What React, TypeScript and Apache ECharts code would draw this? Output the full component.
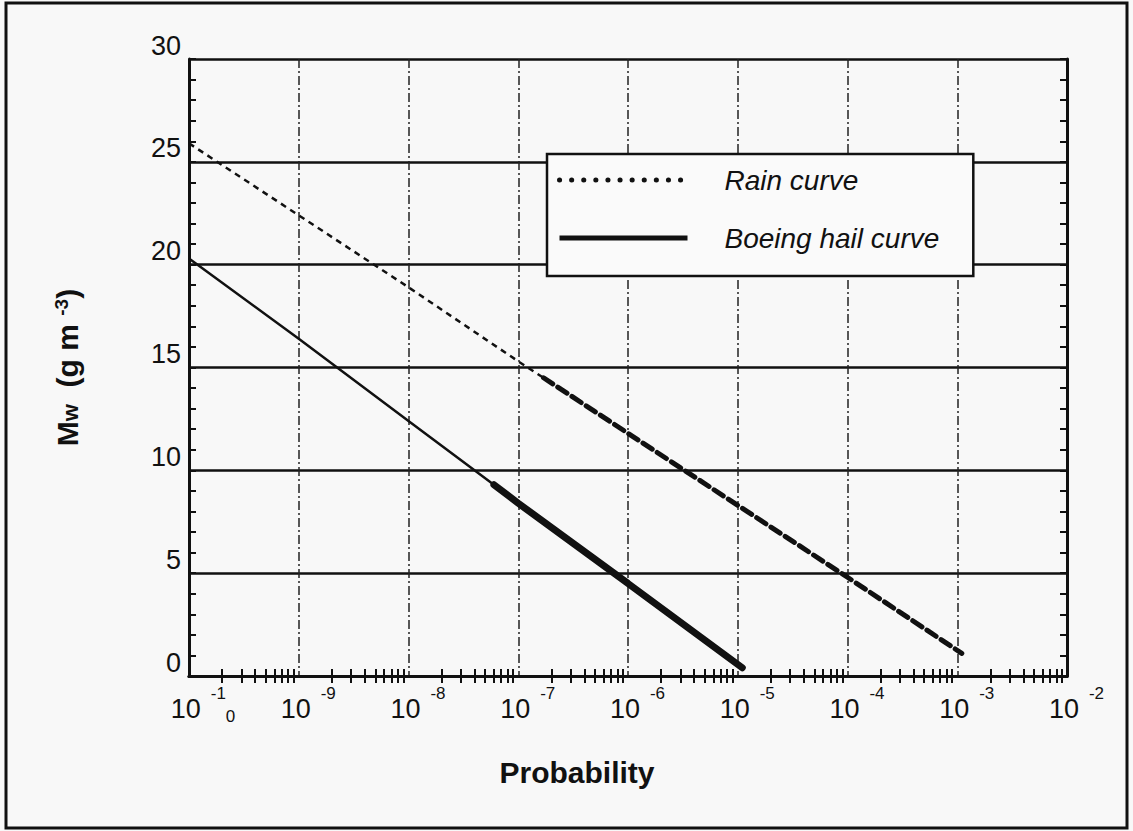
import React, { useEffect, useRef } from 'react';
import * as echarts from 'echarts';

// ---- Data ----
const rainThinProb = [1e-10, 1e-9, 1e-8, 1e-7, 1.7e-7];
const rainThinMw = [25.9, 22.4, 18.9, 15.3, 14.5];
const rainThickProb = [1.7e-7, 1e-6, 1e-5, 1e-4, 1.1e-3];
const rainThickMw = [14.5, 11.8, 8.3, 4.8, 1.1];

const hailThinProb = [1e-10, 1e-9, 1e-8, 6e-8];
const hailThinMw = [20.3, 16.4, 12.4, 9.3];
const hailThickProb = [6e-8, 1e-7, 1e-6, 1.1e-5];
const hailThickMw = [9.3, 8.4, 4.5, 0.4];

const xTickValues = [1e-10, 1e-9, 1e-8, 1e-7, 1e-6, 1e-5, 1e-4, 1e-3, 1e-2];
const xTickBase = '10';
const xTickSup = ['-1', '-9', '-8', '-7', '-6', '-5', '-4', '-3', '-2'];
const xTickSub = ['0', '', '', '', '', '', '', '', ''];
const yTickValues = [0, 5, 10, 15, 20, 25, 30];

const seriesNames = ['Rain curve', 'Boeing hail curve'];
const xName = 'Probability';

const FONT = "'Liberation Sans', Arial, Helvetica, sans-serif";
const INK = '#111';

const pairs = (xs: number[], ys: number[]) => xs.map((x, i) => [x, ys[i]]);

export default function App() {
  const ref = useRef<HTMLDivElement>(null);

  useEffect(() => {
    if (!ref.current) return;
    const chart = echarts.init(ref.current, undefined, { renderer: 'svg' });

    const xLabelFormatter = (v: number) => {
      const lv = Math.log10(v);
      const i = xTickValues.findIndex((t) => Math.abs(Math.log10(t) - lv) < 1e-6);
      if (i < 0) return '';
      const sub = xTickSub[i];
      if (sub) {
        return `{lsp2| }{base|${xTickBase}}{gap| }{sup|${xTickSup[i]}}{sub|${sub}}`;
      }
      return `{lsp| }{base|${xTickBase}}{gap| }{sup|${xTickSup[i]}}`;
    };

    const commonX = {
      type: 'log' as const,
      logBase: 10,
      min: xTickValues[0],
      max: xTickValues[xTickValues.length - 1],
      splitNumber: 8,
    };

    const option: any = {
      animation: false,
      backgroundColor: '#f8f8f8',
      textStyle: { fontFamily: FONT, color: INK },
      grid: { left: 189, top: 59, width: 878, height: 617, containLabel: false },
      graphic: [
        {
          type: 'rect',
          silent: true,
          z: -10,
          shape: { x: 6, y: 3, width: 1121, height: 825 },
          style: { fill: 'none', stroke: INK, lineWidth: 3 },
        },
      ],
      legend: {
        show: true,
        orient: 'vertical',
        left: 547,
        top: 154,
        selectedMode: false,
        itemWidth: 128,
        itemHeight: 14,
        itemGap: 28,
        padding: [11, 34, 23, 10],
        backgroundColor: '#fafafa',
        borderColor: INK,
        borderWidth: 2.5,
        textStyle: {
          fontFamily: FONT,
          fontSize: 28,
          fontStyle: 'italic',
          color: INK,
          padding: [0, 0, 0, 32],
          lineHeight: 30,
        },
        data: [
          {
            name: seriesNames[0],
            itemStyle: { opacity: 0 },
            lineStyle: { color: INK, width: 5, type: [0.1, 12], cap: 'round' },
          },
          {
            name: seriesNames[1],
            itemStyle: { opacity: 0 },
            lineStyle: { color: INK, width: 5, type: 'solid' },
          },
        ],
      },
      xAxis: [
        {
          ...commonX,
          position: 'bottom',
          name: xName,
          nameLocation: 'middle',
          nameGap: 81,
          nameTextStyle: {
            fontFamily: FONT,
            fontSize: 30,
            fontWeight: 'bold',
            color: INK,
            padding: [0, 102, 0, 0],
          },
          axisLine: { show: true, lineStyle: { color: INK, width: 3 } },
          axisTick: { show: false, inside: true, length: 7, lineStyle: { color: INK, width: 2 } },
          minorTick: { show: true, splitNumber: 9, length: 7, lineStyle: { color: INK, width: 2 } },
          splitLine: { show: true, lineStyle: { color: '#222', width: 1.5, type: [9, 3, 2, 3] } },
          axisLabel: {
            show: true,
            margin: 2,
            showMinLabel: true,
            showMaxLabel: true,
            hideOverlap: false,
            color: INK,
            formatter: xLabelFormatter,
            rich: {
              lsp: { width: 19, fontSize: 10 },
              lsp2: { width: 28, fontSize: 10 },
              gap: { width: 10, fontSize: 10 },
              base: { fontFamily: FONT, fontSize: 27, color: INK, padding: [17.5, 0, 3, 0], verticalAlign: 'middle' },
              sup: { fontFamily: FONT, fontSize: 17, color: INK, padding: [0, 0, 17.5, 0], verticalAlign: 'middle' },
              sub: { fontFamily: FONT, fontSize: 17, color: INK, padding: [30, 0, 0, 0], verticalAlign: 'middle' },
            },
          },
        },
        {
          ...commonX,
          position: 'top',
          axisLine: { show: true, lineStyle: { color: INK, width: 3 } },
          axisTick: { show: false, inside: true, length: 7, lineStyle: { color: INK, width: 2 } },
          minorTick: { show: true, splitNumber: 9, length: 7, lineStyle: { color: INK, width: 2 } },
          splitLine: { show: false },
          axisLabel: { show: false },
        },
      ],
      yAxis: [
        {
          type: 'value',
          position: 'left',
          min: yTickValues[0],
          max: yTickValues[yTickValues.length - 1],
          interval: 5,
          name: '{m|M}{w|w}{t|  (g m }{sup|-3}{t|)}',
          nameLocation: 'middle',
          nameRotate: 90,
          nameGap: 106,
          nameTextStyle: {
            rich: {
              m: { fontFamily: FONT, fontSize: 30, fontWeight: 'bold', color: INK, verticalAlign: 'middle' },
              w: { fontFamily: FONT, fontSize: 22, fontWeight: 'bold', color: INK, padding: [6, 0, 0, 0], verticalAlign: 'middle' },
              t: { fontFamily: FONT, fontSize: 30, fontWeight: 'bold', color: INK, verticalAlign: 'middle' },
              sup: { fontFamily: FONT, fontSize: 19, fontWeight: 'bold', color: INK, padding: [0, 0, 12, 0], verticalAlign: 'middle' },
            },
          },
          axisLine: { show: true, lineStyle: { color: INK, width: 3 } },
          axisTick: { show: true, inside: true, length: 7, lineStyle: { color: INK, width: 2 } },
          minorTick: { show: true, splitNumber: 5, length: 7, lineStyle: { color: INK, width: 2 } },
          splitLine: { show: true, lineStyle: { color: INK, width: 2.5, type: 'solid' } },
          axisLabel: {
            show: true,
            margin: 8,
            color: INK,
            fontFamily: FONT,
            fontSize: 27,
            verticalAlign: 'bottom',
            showMinLabel: true,
            showMaxLabel: true,
          },
        },
        {
          type: 'value',
          position: 'right',
          min: yTickValues[0],
          max: yTickValues[yTickValues.length - 1],
          interval: 5,
          axisLine: { show: true, lineStyle: { color: INK, width: 3 } },
          axisTick: { show: true, inside: true, length: 7, lineStyle: { color: INK, width: 2 } },
          minorTick: { show: true, splitNumber: 5, length: 7, lineStyle: { color: INK, width: 2 } },
          splitLine: { show: false },
          axisLabel: { show: false },
        },
      ],
      series: [
        {
          name: seriesNames[0],
          type: 'line',
          xAxisIndex: 0,
          yAxisIndex: 0,
          symbol: 'none',
          data: pairs(rainThinProb, rainThinMw),
          lineStyle: { color: INK, width: 2.5, type: [6, 5] },
          itemStyle: { color: INK },
          z: 5,
        },
        {
          name: seriesNames[0],
          type: 'line',
          xAxisIndex: 0,
          yAxisIndex: 0,
          symbol: 'none',
          data: pairs(rainThickProb, rainThickMw),
          lineStyle: { color: INK, width: 5, type: [11, 6], cap: 'round' },
          itemStyle: { color: INK },
          z: 5,
        },
        {
          name: seriesNames[1],
          type: 'line',
          xAxisIndex: 0,
          yAxisIndex: 0,
          symbol: 'none',
          data: pairs(hailThinProb, hailThinMw),
          lineStyle: { color: INK, width: 2.5, type: 'solid' },
          itemStyle: { color: INK },
          z: 5,
        },
        {
          name: seriesNames[1],
          type: 'line',
          xAxisIndex: 0,
          yAxisIndex: 0,
          symbol: 'none',
          data: pairs(hailThickProb, hailThickMw),
          lineStyle: { color: INK, width: 7, type: 'solid', cap: 'round' },
          itemStyle: { color: INK },
          z: 5,
        },
      ],
    };

    chart.setOption(option);
    return () => chart.dispose();
  }, []);

  return (
    <div
      ref={ref}
      style={{ position: 'absolute', left: 0, top: 0, width: 1133, height: 831 }}
    />
  );
}
